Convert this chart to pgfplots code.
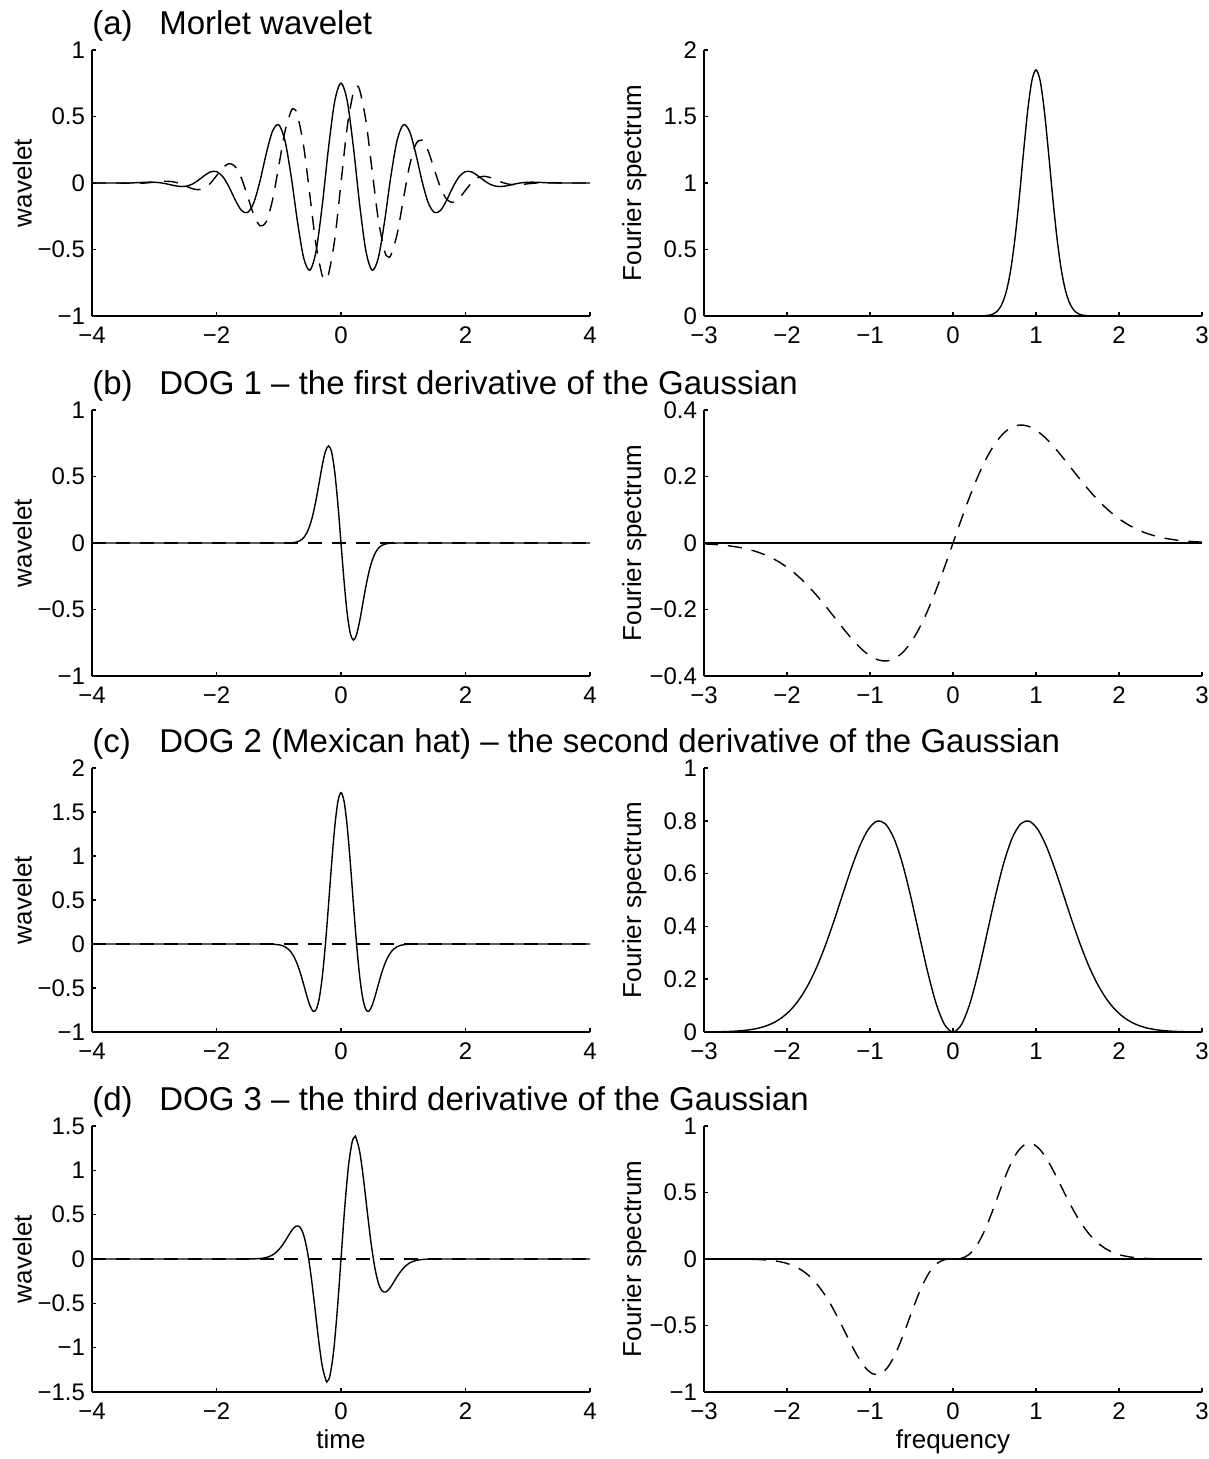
\documentclass[border=0pt]{standalone}
\usepackage{fontspec}
\setmainfont{Liberation Sans}
\usepackage{pgfplots}
\pgfplotsset{compat=1.18}
\pgfplotsset{
  base/.style={
    scale only axis, height=133pt, width=249pt,
    axis lines=left, axis line style={-, line width=0.8pt},
    tick align=inside, major tick length=2.2pt,
    every tick/.style={black, line width=0.8pt},
    tick label style={font=\fontsize{12}{14}\selectfont},
    xticklabel style={yshift=-2pt},
    title style={font=\fontsize{16.5}{18}\selectfont, at={(axis description cs:0,1)}, anchor=base west, inner sep=0pt, yshift=1.8pt},
    every axis x label/.style={at={(axis description cs:0.5,0)}, anchor=base, yshift=-28pt, font=\fontsize{13}{15}\selectfont},
    every axis y label/.style={at={(axis description cs:-0.14,0.5)}, rotate=90, anchor=center, font=\fontsize{13}{15}\selectfont},
    clip=false,
  },
  L/.style={base, xmin=-4, xmax=4, xtick={-4,-2,0,2,4}, xticklabels={−4,−2,0,2,4}, ylabel={wavelet}},
  R/.style={base, xmin=-3, xmax=3, xtick={-3,-2,-1,0,1,2,3}, xticklabels={−3,−2,−1,0,1,2,3}, ylabel={Fourier spectrum}},
  sol/.style={black, line width=0.7pt, smooth, mark=none},
  dsh/.style={black, line width=0.7pt, smooth, mark=none, dash pattern=on 7pt off 5pt},
}
\begin{document}
\begin{tikzpicture}
\useasboundingbox (0,0) rectangle (604pt,-729.5pt);

% ---------------- (a) left
\begin{axis}[L, at={(46pt,-25pt)}, anchor=north west, ymin=-1, ymax=1,
  ytick={-1,-0.5,0,0.5,1}, yticklabels={−1,−0.5,0,0.5,1},
  title={\makebox[33.5pt][l]{(a)}Morlet wavelet}]
\addplot[sol] coordinates {(-4,0) (-3.6,0) (-3.4,0) (-3.2,0.0042) (-3.1,0.0060) (-3.0,0.0055) (-2.9,0.0014) (-2.8,-0.0069) (-2.7,-0.0173) (-2.6,-0.0254) (-2.5,-0.0251) (-2.4,-0.0110) (-2.3,0.0177) (-2.2,0.0538) (-2.1,0.0828) (-2.0,0.0858) (-1.9,0.0487) (-1.8,-0.0289) (-1.7,-0.1264) (-1.6,-0.2056) (-1.5,-0.2222) (-1.4,-0.1464) (-1.3,0.0174) (-1.2,0.2225) (-1.1,0.3898) (-1.0,0.4375) (-0.9,0.3180) (-0.8,0.0477) (-0.7,-0.2882) (-0.6,-0.5626) (-0.5,-0.6563) (-0.4,-0.5112) (-0.3,-0.1632) (-0.2,0.2668) (-0.1,0.6168) (0,0.7511)
(0.1,0.6168) (0.2,0.2668) (0.3,-0.1632) (0.4,-0.5112) (0.5,-0.6563) (0.6,-0.5626) (0.7,-0.2882) (0.8,0.0477) (0.9,0.3180) (1.0,0.4375) (1.1,0.3898) (1.2,0.2225) (1.3,0.0174) (1.4,-0.1464) (1.5,-0.2222) (1.6,-0.2056) (1.7,-0.1264) (1.8,-0.0289) (1.9,0.0487) (2.0,0.0858) (2.1,0.0828) (2.2,0.0538) (2.3,0.0177) (2.4,-0.0110) (2.5,-0.0251) (2.6,-0.0254) (2.7,-0.0173) (2.8,-0.0069) (2.9,0.0014) (3.0,0.0055) (3.1,0.0060) (3.2,0.0042) (3.4,0) (3.6,0) (4,0)};
\addplot[dsh] coordinates {(-4,0) (-3.6,0) (-3.4,-0.002) (-3.2,-0.0015) (-3.1,0.0015) (-3.0,0.0062) (-2.9,0.0111) (-2.8,0.0132) (-2.7,0.0093) (-2.6,-0.0027) (-2.5,-0.0215) (-2.4,-0.0408) (-2.3,-0.0503) (-2.2,-0.0395) (-2.1,-0.0028) (-2.0,0.0546) (-1.9,0.1136) (-1.8,0.1458) (-1.7,0.1239) (-1.6,0.0364) (-1.5,-0.1005) (-1.4,-0.2409) (-1.3,-0.3222) (-1.2,-0.2901) (-1.1,-0.1278) (-1.0,0.1273) (-0.9,0.3872) (-0.8,0.5433) (-0.75,0.5542) (-0.7,0.5124) (-0.6,0.2776) (-0.5,-0.0935) (-0.4,-0.4683) (-0.3,-0.6993) (-0.25,-0.7262) (-0.2,-0.6861) (-0.1,-0.4220) (0,0)
(0.1,0.4220) (0.2,0.6861) (0.25,0.7262) (0.3,0.6993) (0.4,0.4683) (0.5,0.0935) (0.6,-0.2776) (0.7,-0.5124) (0.75,-0.5542) (0.8,-0.5433) (0.9,-0.3872) (1.0,-0.1273) (1.1,0.1278) (1.2,0.2901) (1.3,0.3222) (1.4,0.2409) (1.5,0.1005) (1.6,-0.0364) (1.7,-0.1239) (1.8,-0.1458) (1.9,-0.1136) (2.0,-0.0546) (2.1,0.0028) (2.2,0.0395) (2.3,0.0503) (2.4,0.0408) (2.5,0.0215) (2.6,0.0027) (2.7,-0.0093) (2.8,-0.0132) (2.9,-0.0111) (3.0,-0.0062) (3.1,-0.0015) (3.2,0.0015) (3.4,0.002) (3.6,0) (4,0)};
\end{axis}

% ---------------- (a) right
\begin{axis}[R, at={(352pt,-25pt)}, anchor=north west, ymin=0, ymax=2,
  ytick={0,0.5,1,1.5,2}, yticklabels={0,0.5,1,1.5,2}]
\addplot[sol] coordinates {(-3,0) (-2,0) (-1,0) (0,0) (0.2,0) (0.3,0.0003) (0.4,0.0028) (0.45,0.0080) (0.5,0.0205) (0.55,0.0483) (0.6,0.1038) (0.65,0.2040) (0.7,0.3661) (0.75,0.6007) (0.8,0.9005) (0.85,1.234) (0.9,1.545) (0.95,1.769) (1.0,1.85) (1.05,1.769) (1.1,1.545) (1.15,1.234) (1.2,0.9005) (1.25,0.6007) (1.3,0.3661) (1.35,0.2040) (1.4,0.1038) (1.45,0.0483) (1.5,0.0205) (1.55,0.0080) (1.6,0.0028) (1.7,0.0003) (1.8,0) (2,0) (3,0)};
\end{axis}

% ---------------- (b) left
\begin{axis}[L, at={(46pt,-205pt)}, anchor=north west, ymin=-1, ymax=1,
  ytick={-1,-0.5,0,0.5,1}, yticklabels={−1,−0.5,0,0.5,1},
  title={\makebox[33.5pt][l]{(b)}DOG 1 – the first derivative of the Gaussian}]
\addplot[sol] coordinates {(-4,0) (-3,0) (-2,0) (-1.2,0) (-1,0) (-0.9,0.0002) (-0.8,0.0016) (-0.75,0.0040) (-0.7,0.0092) (-0.65,0.0199) (-0.6,0.0401) (-0.55,0.0754) (-0.5,0.1321) (-0.45,0.2155) (-0.4,0.3258) (-0.35,0.4556) (-0.3,0.5862) (-0.25,0.6888) (-0.2,0.7300) (-0.15,0.6814) (-0.1,0.5311) (-0.05,0.2916) (0,0) (0.05,-0.2916) (0.1,-0.5311) (0.15,-0.6814) (0.2,-0.7300) (0.25,-0.6888) (0.3,-0.5862) (0.35,-0.4556) (0.4,-0.3258) (0.45,-0.2155) (0.5,-0.1321) (0.55,-0.0754) (0.6,-0.0401) (0.65,-0.0199) (0.7,-0.0092) (0.75,-0.0040) (0.8,-0.0016) (0.9,-0.0002) (1,0) (1.2,0) (2,0) (3,0) (4,0)};
\addplot[dsh, sharp plot] coordinates {(-4,0) (4,0)};
\end{axis}

% ---------------- (b) right
\begin{axis}[R, at={(352pt,-205pt)}, anchor=north west, ymin=-0.4, ymax=0.4,
  ytick={-0.4,-0.2,0,0.2,0.4}, yticklabels={−0.4,−0.2,0,0.2,0.4}]
\addplot[sol, sharp plot] coordinates {(-3,0) (3,0)};
\addplot[dsh] coordinates {(-3,-0.0027) (-2.9,-0.0040) (-2.8,-0.0059) (-2.7,-0.0085) (-2.6,-0.0122) (-2.5,-0.0171) (-2.4,-0.0236) (-2.3,-0.0321) (-2.2,-0.0430) (-2.1,-0.0565) (-2.0,-0.0729) (-1.9,-0.0926) (-1.8,-0.1155) (-1.7,-0.1415) (-1.6,-0.1702) (-1.5,-0.2009) (-1.4,-0.2327) (-1.3,-0.2641) (-1.2,-0.2936) (-1.1,-0.3193) (-1.0,-0.3393) (-0.9,-0.3517) (-0.8,-0.3548) (-0.7,-0.3471) (-0.6,-0.3277) (-0.5,-0.2964) (-0.4,-0.2535) (-0.3,-0.2003) (-0.2,-0.1386) (-0.1,-0.0708) (0,0)
(0.1,0.0708) (0.2,0.1386) (0.3,0.2003) (0.4,0.2535) (0.5,0.2964) (0.6,0.3277) (0.7,0.3471) (0.8,0.3548) (0.9,0.3517) (1.0,0.3393) (1.1,0.3193) (1.2,0.2936) (1.3,0.2641) (1.4,0.2327) (1.5,0.2009) (1.6,0.1702) (1.7,0.1415) (1.8,0.1155) (1.9,0.0926) (2.0,0.0729) (2.1,0.0565) (2.2,0.0430) (2.3,0.0321) (2.4,0.0236) (2.5,0.0171) (2.6,0.0122) (2.7,0.0085) (2.8,0.0059) (2.9,0.0040) (3,0.0027)};
\end{axis}

% ---------------- (c) left
\begin{axis}[L, at={(46pt,-384pt)}, anchor=north west, height=132pt, ymin=-1, ymax=2,
  ytick={-1,-0.5,0,0.5,1,1.5,2}, yticklabels={−1,−0.5,0,0.5,1,1.5,2},
  title={\makebox[33.5pt][l]{(c)}DOG 2 (Mexican hat) – the second derivative of the Gaussian}]
\addplot[sol] coordinates {(-4,0) (-3,0) (-2,0) (-1.5,0) (-1.2,0) (-1.1,-0.0020) (-1.0,-0.0087) (-0.95,-0.0169) (-0.9,-0.0316) (-0.85,-0.0561) (-0.8,-0.0950) (-0.75,-0.1529) (-0.7,-0.2334) (-0.65,-0.3368) (-0.6,-0.4593) (-0.55,-0.5873) (-0.5,-0.6983) (-0.45,-0.7625) (-0.4,-0.7459) (-0.35,-0.6197) (-0.3,-0.3684) (-0.25,0) (-0.2,0.4496) (-0.15,0.9195) (-0.1,1.3337) (-0.05,1.6185) (0,1.72) (0.05,1.6185) (0.1,1.3337) (0.15,0.9195) (0.2,0.4496) (0.25,0) (0.3,-0.3684) (0.35,-0.6197) (0.4,-0.7459) (0.45,-0.7625) (0.5,-0.6983) (0.55,-0.5873) (0.6,-0.4593) (0.65,-0.3368) (0.7,-0.2334) (0.75,-0.1529) (0.8,-0.0950) (0.85,-0.0561) (0.9,-0.0316) (0.95,-0.0169) (1.0,-0.0087) (1.1,-0.0020) (1.2,0) (1.5,0) (2,0) (3,0) (4,0)};
\addplot[dsh, sharp plot] coordinates {(-4,0) (4,0)};
\end{axis}

% ---------------- (c) right
\begin{axis}[R, at={(352pt,-384pt)}, anchor=north west, height=132pt, ymin=0, ymax=1,
  ytick={0,0.2,0.4,0.6,0.8,1}, yticklabels={0,0.2,0.4,0.6,0.8,1}]
\addplot[sol] coordinates {(-3,0.0003) (-2.86,0.0007) (-2.76,0.0014) (-2.66,0.0026) (-2.5575,0.0047) (-2.4552,0.0082) (-2.3529,0.0140) (-2.2506,0.0232) (-2.1483,0.0373) (-2.046,0.0583) (-1.9437,0.0880) (-1.8414,0.1288) (-1.7391,0.1824) (-1.6368,0.2497) (-1.5345,0.3308) (-1.4322,0.4226) (-1.3299,0.5207) (-1.2276,0.6173) (-1.1253,0.7029) (-1.023,0.7666) (-0.9207,0.7981) (-0.8184,0.7894) (-0.7161,0.7369) (-0.6138,0.6428) (-0.5115,0.5162) (-0.4092,0.3721) (-0.3069,0.2296) (-0.2046,0.1090) (-0.1023,0.0284) (0,0)
(0.1023,0.0284) (0.2046,0.1090) (0.3069,0.2296) (0.4092,0.3721) (0.5115,0.5162) (0.6138,0.6428) (0.7161,0.7369) (0.8184,0.7894) (0.9207,0.7981) (1.023,0.7666) (1.1253,0.7029) (1.2276,0.6173) (1.3299,0.5207) (1.4322,0.4226) (1.5345,0.3308) (1.6368,0.2497) (1.7391,0.1824) (1.8414,0.1288) (1.9437,0.0880) (2.046,0.0583) (2.1483,0.0373) (2.2506,0.0232) (2.3529,0.0140) (2.4552,0.0082) (2.5575,0.0047) (2.66,0.0026) (2.76,0.0014) (2.86,0.0007) (3,0.0003)};
\end{axis}

% ---------------- (d) left
\begin{axis}[L, at={(46pt,-563pt)}, anchor=north west, ymin=-1.5, ymax=1.5,
  ytick={-1.5,-1,-0.5,0,0.5,1,1.5}, yticklabels={−1.5,−1,−0.5,0,0.5,1,1.5},
  xlabel={time},
  title={\makebox[33.5pt][l]{(d)}DOG 3 – the third derivative of the Gaussian}]
\addplot[sol] coordinates {(-4,0) (-3,0) (-2,0) (-1.6,0) (-1.5,0.0004) (-1.44,0.0009) (-1.38,0.0021) (-1.32,0.0045) (-1.26,0.0091) (-1.2,0.0174) (-1.14,0.0318) (-1.08,0.0550) (-1.02,0.0899) (-0.96,0.1385) (-0.9,0.2000) (-0.84,0.2689) (-0.78,0.3324) (-0.72,0.3716) (-0.66,0.3599) (-0.6,0.2707) (-0.54,0.0855) (-0.48,-0.1957) (-0.42,-0.5464) (-0.36,-0.9113) (-0.3,-1.2131) (-0.24,-1.3709) (-0.2226,-1.3799) (-0.18,-1.3231) (-0.12,-1.0486) (-0.06,-0.5803) (0,0)
(0.06,0.5803) (0.12,1.0486) (0.18,1.3231) (0.2226,1.3799) (0.24,1.3709) (0.3,1.2131) (0.36,0.9113) (0.42,0.5464) (0.48,0.1957) (0.54,-0.0855) (0.6,-0.2707) (0.66,-0.3599) (0.72,-0.3716) (0.78,-0.3324) (0.84,-0.2689) (0.9,-0.2000) (0.96,-0.1385) (1.02,-0.0899) (1.08,-0.0550) (1.14,-0.0318) (1.2,-0.0174) (1.26,-0.0091) (1.32,-0.0045) (1.38,-0.0021) (1.44,-0.0009) (1.5,-0.0004) (1.6,0) (2,0) (3,0) (4,0)};
\addplot[dsh, sharp plot] coordinates {(-4,0) (4,0)};
\end{axis}

% ---------------- (d) right
\begin{axis}[R, at={(352pt,-563pt)}, anchor=north west, ymin=-1, ymax=1,
  ytick={-1,-0.5,0,0.5,1}, yticklabels={−1,−0.5,0,0.5,1},
  xlabel={frequency}]
\addplot[sol, sharp plot] coordinates {(-3,0) (3,0)};
\addplot[dsh] coordinates {(-3,0) (-2.7115,-0.0002) (-2.5178,-0.0010) (-2.421,-0.0022) (-2.3242,-0.0044) (-2.2273,-0.0084) (-2.1305,-0.0155) (-2.0336,-0.0276) (-1.9368,-0.0472) (-1.84,-0.0773) (-1.7431,-0.1217) (-1.6463,-0.1833) (-1.5494,-0.2645) (-1.4526,-0.3647) (-1.3558,-0.4801) (-1.2589,-0.6021) (-1.1621,-0.7177) (-1.0652,-0.8102) (-0.9684,-0.8629) (-0.8716,-0.8627) (-0.7747,-0.8038) (-0.6779,-0.6908) (-0.581,-0.5399) (-0.4842,-0.3752) (-0.3874,-0.2231) (-0.2905,-0.1057) (-0.1937,-0.0340) (-0.0968,-0.0045) (0,0)
(0.0968,0.0045) (0.1937,0.0340) (0.2905,0.1057) (0.3874,0.2231) (0.4842,0.3752) (0.581,0.5399) (0.6779,0.6908) (0.7747,0.8038) (0.8716,0.8627) (0.9684,0.8629) (1.0652,0.8102) (1.1621,0.7177) (1.2589,0.6021) (1.3558,0.4801) (1.4526,0.3647) (1.5494,0.2645) (1.6463,0.1833) (1.7431,0.1217) (1.84,0.0773) (1.9368,0.0472) (2.0336,0.0276) (2.1305,0.0155) (2.2273,0.0084) (2.3242,0.0044) (2.421,0.0022) (2.5178,0.0010) (2.7115,0.0002) (3,0)};
\end{axis}
\end{tikzpicture}
\end{document}
